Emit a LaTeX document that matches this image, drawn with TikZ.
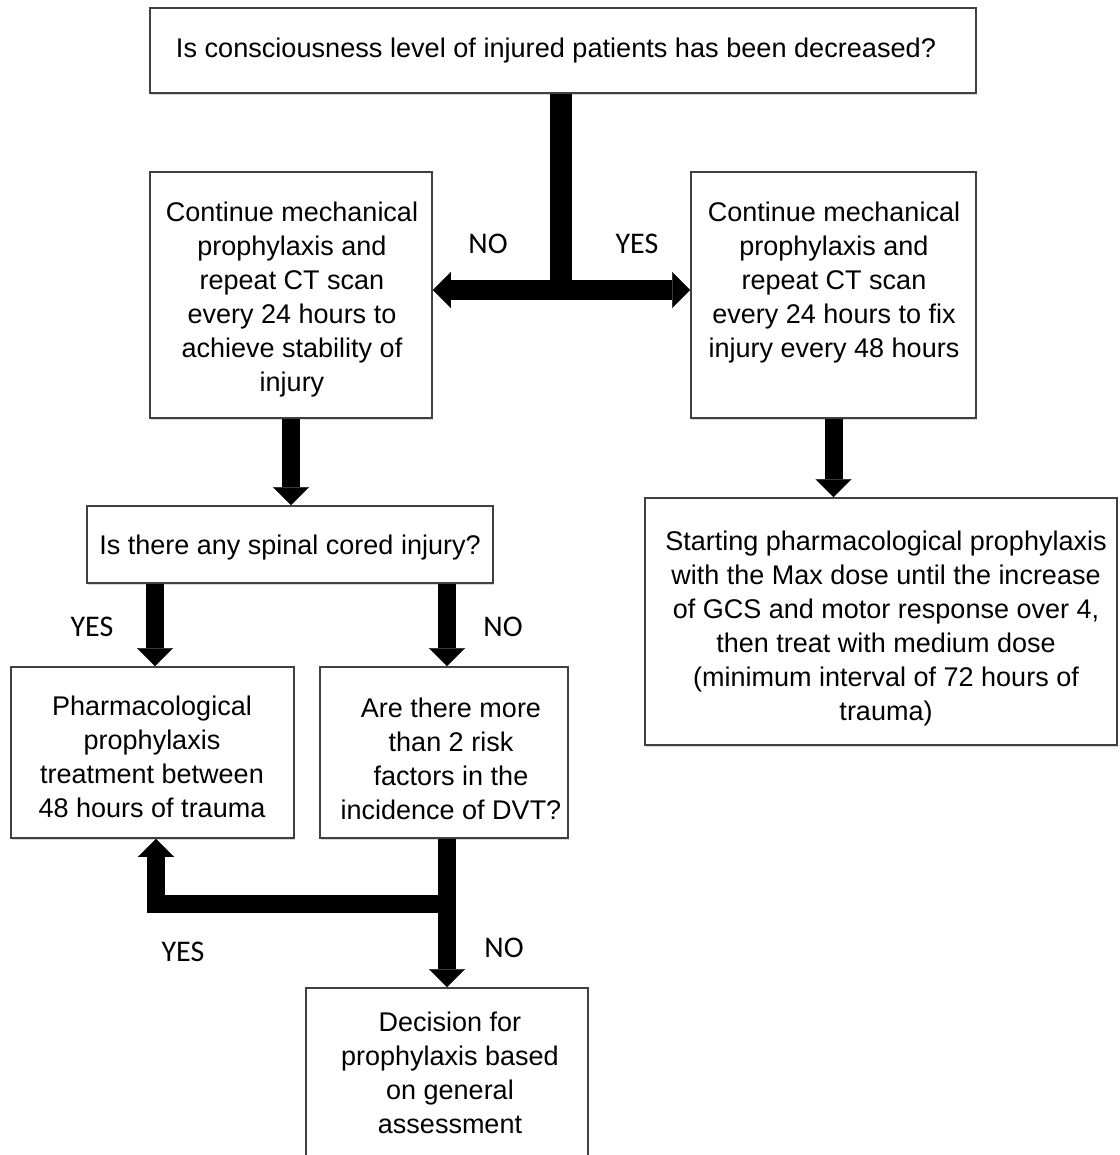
\documentclass[tikz,border=0pt]{standalone}
\usepackage{fontspec}
\setmainfont{Liberation Sans}
\newfontfamily\labfont{Carlito}
\usetikzlibrary{arrows.meta,shadows}
\begin{document}
\begin{tikzpicture}[x=1pt,y=-1pt,
  box/.style={draw=black!75,line width=1.6pt,fill=white,inner sep=0pt,
    drop shadow={shadow xshift=1.2pt,shadow yshift=-1.6pt,fill=black!30}},
  txt/.style={align=center,inner sep=0pt,font=\fontsize{27}{34}\selectfont},
  lab/.style={inner sep=0pt,font=\labfont\fontsize{30}{34}\selectfont},
  fat/.style={line width=18pt,line cap=butt,line join=miter,
    -{Triangle[width=36pt,length=18pt,line width=0.1pt]}},
  fatboth/.style={line width=20pt,line cap=butt,line join=miter,
    {Triangle[width=36pt,length=18pt,line width=0.1pt]}-{Triangle[width=36pt,length=18pt,line width=0.1pt]}},
  shaft/.style={line width=22pt,line cap=butt}]
\useasboundingbox (0,0) rectangle (1119,1155);

% boxes
\node[box,minimum width=826pt,minimum height=85pt]  (b1) at (563,50.5) {};
\node[box,minimum width=282pt,minimum height=246pt] (b2) at (291,295) {};
\node[box,minimum width=285pt,minimum height=246pt] (b3) at (833.5,295) {};
\node[box,minimum width=406pt,minimum height=77pt]  (b4) at (290,544.5) {};
\node[box,minimum width=472pt,minimum height=247pt] (b5) at (881,621.5) {};
\node[box,minimum width=283pt,minimum height=171pt] (b6) at (152.5,752.5) {};
\node[box,minimum width=248pt,minimum height=171pt] (b7) at (444,752.5) {};
\node[box,minimum width=282pt,minimum height=182pt] (b8) at (447,1079) {};

% box texts
\node[txt] (t1) at (556,51) {\resizebox{760pt}{\height}{Is consciousness level of injured patients has been decreased?}};
\node[txt] (t2) at (292,300) {Continue mechanical\\prophylaxis and\\repeat CT scan\\every 24 hours to\\achieve stability of\\injury};
\node[txt] (t3) at (834,283) {Continue mechanical\\prophylaxis and\\repeat CT scan\\every 24 hours to fix\\injury every 48 hours};
\node[txt] (t4) at (290,548) {Is there any spinal cored injury?};
\node[txt] (t5) at (886,629) {Starting pharmacological prophylaxis\\with the Max dose until the increase\\of GCS and motor response over 4,\\then treat with medium dose\\(minimum interval of 72 hours of\\trauma)};
\node[txt] (t6) at (152,757) {Pharmacological\\prophylaxis\\treatment between\\48 hours of trauma};
\node[txt] (t7) at (451,759) {Are there more\\than 2 risk\\factors in the\\incidence of DVT?};
\node[txt] (t8) at (450,1073) {Decision for\\prophylaxis based\\on general\\assessment};

% branch points
\coordinate (j1) at (561,290);
\coordinate (xl) at (155,0);
\coordinate (xr) at (447,0);
\coordinate (j2) at (447,904);
\coordinate (xu) at (156,0);

% connectors
\draw[shaft] (b1.south -| j1) -- ([yshift=-10pt]j1);
\draw[fatboth] (b2.east |- j1) -- (b3.west |- j1);
\draw[fat] (b2.south) -- (b4.north -| b2.south);
\draw[fat] (b3.south) -- (b5.north -| b3.south);
\draw[fat] (b4.south -| xl) -- (b6.north -| xl);
\draw[fat] (b4.south -| xr) -- (b7.north -| xr);
\draw[fat] (b7.south -| j2) -- (b8.north -| j2);
\draw[fat] ([xshift=9pt]j2) -| (b6.south -| xu);

% labels
\node[lab] (n1) at (488,244) {NO};
\node[lab] (y1) at (637,244) {YES};
\node[lab] (y2) at (92,627) {YES};
\node[lab] (n2) at (503,627) {NO};
\node[lab] (y3) at (183,952) {YES};
\node[lab] (n3) at (504,948) {NO};
\end{tikzpicture}
\end{document}
